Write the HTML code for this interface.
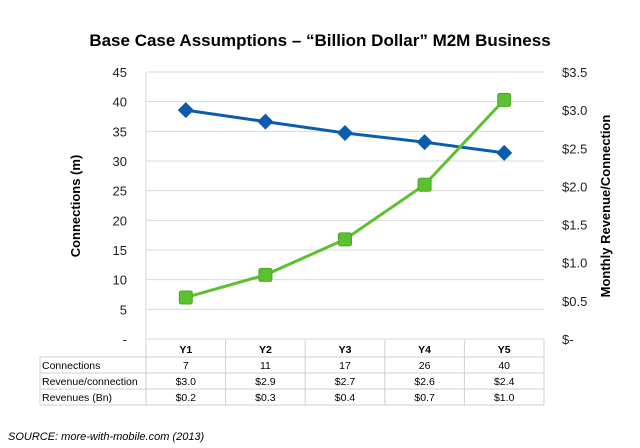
<!DOCTYPE html>
<html><head><meta charset="utf-8"><style>
body{margin:0;background:#fff;}
svg{display:block;font-family:"Liberation Sans",sans-serif;}
</style></head><body>
<svg id="c" width="640" height="448">
<text x="320" y="46" text-anchor="middle" font-size="17" font-weight="bold" fill="#000">Base Case Assumptions – “Billion Dollar” M2M Business</text>
<text transform="translate(80,206) rotate(-90)" text-anchor="middle" font-size="13" font-weight="bold">Connections (m)</text>
<text transform="translate(610,206) rotate(-90)" text-anchor="middle" font-size="13" font-weight="bold">Monthly Revenue/Connection</text>
<text x="8" y="440" font-size="11" font-style="italic">SOURCE: more-with-mobile.com (2013)</text>
<g id="grid"></g><g id="tbl"></g><g id="marks"></g>
</svg>
<script>
const categories=["Y1","Y2","Y3","Y4","Y5"];
const connections=[7,10.8,16.8,26,40.3];
const revPerConn=[3.0,2.85,2.7,2.58,2.44];
const leftTicks=["-","5","10","15","20","25","30","35","40","45"];
const rightTicks=["$-","$0.5","$1.0","$1.5","$2.0","$2.5","$3.0","$3.5"];
const rowLabels=["Connections","Revenue/connection","Revenues (Bn)"];
const rowConn=["7","11","17","26","40"];
const rowRev=["$3.0","$2.9","$2.7","$2.6","$2.4"];
const rowBn=["$0.2","$0.3","$0.4","$0.7","$1.0"];
const NS="http://www.w3.org/2000/svg";
const L=146,R=544,T=72,B=339;
const colW=(R-L)/categories.length;
const xc=i=>L+colW*(i+0.5);
const yL=v=>B-(v/45)*(B-T);
const yR=v=>B-(v/3.5)*(B-T);
function mk(tag,attrs,parent,txt){const e=document.createElementNS(NS,tag);for(const k in attrs)e.setAttribute(k,attrs[k]);if(txt!==undefined)e.textContent=txt;document.getElementById(parent).appendChild(e);return e;}
leftTicks.forEach((t,i)=>{const y=yL(i*5);
 const g=mk('line',{x1:L,x2:R,y1:y,y2:y,stroke:'#d9d9d9','stroke-width':1},'grid');
 
 const tx=mk('text',{x:127,y:y+5,'text-anchor':'end','font-size':13,fill:'#222'},'grid',t);
 });
rightTicks.forEach((t,i)=>{const y=yR(i*0.5);
 const tx=mk('text',{x:562,y:y+5,'font-size':13,fill:'#222'},'grid',t);
 });
mk('line',{x1:L,x2:L,y1:T,y2:B,stroke:'#d9d9d9'},'grid');
const rows=[categories,rowConn,rowRev,rowBn];const rT=340,rH=[17,16,16,16];
let y=rT;
rows.forEach((r,ri)=>{const h=rH[ri];
 if(ri>0){const lb=mk('text',{x:42,y:y+h-4,'font-size':10.5,fill:'#000'},'tbl',rowLabels[ri-1]);
 }
 r.forEach((v,i)=>{const t=mk('text',{x:xc(i),y:y+h-4,'text-anchor':'middle','font-size':10.5,'font-weight':ri==0?'bold':'normal'},'tbl',v);
 });
 y+=h; mk('line',{x1:40,x2:R,y1:y,y2:y,stroke:'#cfcfcf'},'tbl');});
for(let i=0;i<=categories.length;i++){mk('line',{x1:L+colW*i,x2:L+colW*i,y1:rT,y2:y,stroke:'#cfcfcf'},'tbl');}
mk('line',{x1:40,x2:40,y1:rT+17,y2:y,stroke:'#cfcfcf'},'tbl');
const bp=revPerConn.map((v,i)=>xc(i)+','+yR(v)).join(' ');
const bl=mk('polyline',{points:bp,fill:'none',stroke:'#0b5cad','stroke-width':3},'marks');

const gp=connections.map((v,i)=>xc(i)+','+yL(v)).join(' ');
const gl=mk('polyline',{points:gp,fill:'none',stroke:'#5cc131','stroke-width':3},'marks');

revPerConn.forEach((v,i)=>{const x=xc(i),yy=yR(v);
 const m=mk('polygon',{points:`${x},${yy-8} ${x+8},${yy} ${x},${yy+8} ${x-8},${yy}`,fill:'#0b5cad'},'marks');
 });
connections.forEach((v,i)=>{const x=xc(i),yy=yL(v);
 const m=mk('rect',{x:x-6.5,y:yy-6.5,width:13,height:13,rx:2,fill:'#5cc131',stroke:'#4aa626'},'marks');
 });
</script>
</body></html>
